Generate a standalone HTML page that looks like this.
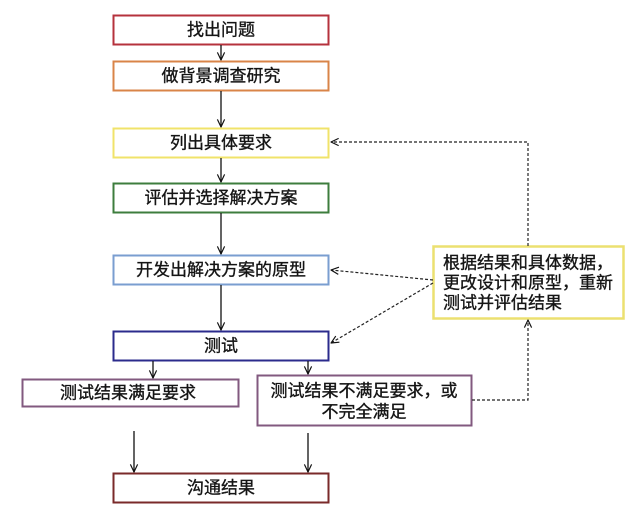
<!DOCTYPE html>
<html><head><meta charset="utf-8"><style>
html,body{margin:0;padding:0;background:#fff;}
svg{display:block;}
text{font-family:"Liberation Sans","Noto Sans CJK SC",sans-serif;font-size:17px;fill:#151515;stroke:#151515;stroke-width:0.35px;}
</style></head><body>
<svg width="640" height="515" viewBox="0 0 640 515" xmlns="http://www.w3.org/2000/svg">
<defs>
<marker id="ah" viewBox="0 0 10 10" refX="9.5" refY="5" markerWidth="9" markerHeight="9" orient="auto" markerUnits="userSpaceOnUse">
<path d="M1,1 L9.5,5 L1,9" fill="none" stroke="#111" stroke-width="1.3"/>
</marker>
</defs>
<rect x="0" y="0" width="640" height="515" fill="#fff"/>
<!-- boxes -->
<rect x="113.5" y="15.5" width="215" height="29" fill="#fff" stroke="#b5323c" stroke-width="2"/>
<rect x="113.5" y="61.5" width="215" height="29" fill="#fff" stroke="#d98448" stroke-width="2"/>
<rect x="113.5" y="128.5" width="215" height="29" fill="#fff" stroke="#f0e36a" stroke-width="2"/>
<rect x="113.5" y="183.5" width="215" height="29" fill="#fff" stroke="#3d7d3d" stroke-width="2"/>
<rect x="113.5" y="255.5" width="215" height="29" fill="#fff" stroke="#7a9ed0" stroke-width="2"/>
<rect x="113.5" y="331.5" width="215" height="29" fill="#fff" stroke="#2b2b8c" stroke-width="2"/>
<rect x="22.5" y="379.5" width="216" height="27" fill="#fff" stroke="#82597f" stroke-width="2"/>
<rect x="257.5" y="375.5" width="214" height="50" fill="#fff" stroke="#82597f" stroke-width="2"/>
<rect x="113.5" y="473.5" width="215" height="29" fill="#fff" stroke="#7a2a2a" stroke-width="2"/>
<rect x="433.5" y="246.5" width="190" height="72" fill="#fff" stroke="#ece070" stroke-width="2.5"/>
<!-- texts -->
<text x="221" y="30" text-anchor="middle" dominant-baseline="central">找出问题</text>
<text x="221" y="76" text-anchor="middle" dominant-baseline="central">做背景调查研究</text>
<text x="221" y="143" text-anchor="middle" dominant-baseline="central">列出具体要求</text>
<text x="221" y="198" text-anchor="middle" dominant-baseline="central">评估并选择解决方案</text>
<text x="221" y="270" text-anchor="middle" dominant-baseline="central">开发出解决方案的原型</text>
<text x="221" y="346" text-anchor="middle" dominant-baseline="central">测试</text>
<text x="128" y="393" text-anchor="middle" dominant-baseline="central">测试结果满足要求</text>
<text x="364" y="391" text-anchor="middle" dominant-baseline="central">测试结果不满足要求，或</text>
<text x="364" y="412" text-anchor="middle" dominant-baseline="central">不完全满足</text>
<text x="221" y="488" text-anchor="middle" dominant-baseline="central">沟通结果</text>
<text x="443" y="263" dominant-baseline="central">根据结果和具体数据，</text>
<text x="443" y="283" dominant-baseline="central">更改设计和原型，重新</text>
<text x="443" y="303" dominant-baseline="central">测试并评估结果</text>
<!-- solid arrows -->
<g stroke="#111" stroke-width="1.3" fill="none">
<line x1="221" y1="45" x2="221" y2="60" marker-end="url(#ah)"/>
<line x1="221" y1="91" x2="221" y2="127" marker-end="url(#ah)"/>
<line x1="221" y1="158" x2="221" y2="182" marker-end="url(#ah)"/>
<line x1="221" y1="213" x2="221" y2="254" marker-end="url(#ah)"/>
<line x1="221" y1="285" x2="221" y2="330" marker-end="url(#ah)"/>
<line x1="153" y1="361" x2="153" y2="378" marker-end="url(#ah)"/>
<line x1="308" y1="361" x2="308" y2="374" marker-end="url(#ah)"/>
<line x1="134" y1="431" x2="134" y2="472" marker-end="url(#ah)"/>
<line x1="308" y1="433" x2="308" y2="472" marker-end="url(#ah)"/>
</g>
<!-- dashed arrows -->
<g stroke="#222" stroke-width="1.2" fill="none" stroke-dasharray="3,2">
<polyline points="528,246 528,142 331,142" marker-end="url(#ah)"/>
<line x1="433" y1="280" x2="331" y2="270" marker-end="url(#ah)"/>
<line x1="433" y1="283" x2="331" y2="343" marker-end="url(#ah)"/>
<polyline points="472,400 528,400 528,320" marker-end="url(#ah)"/>
</g>
</svg>
</body></html>
